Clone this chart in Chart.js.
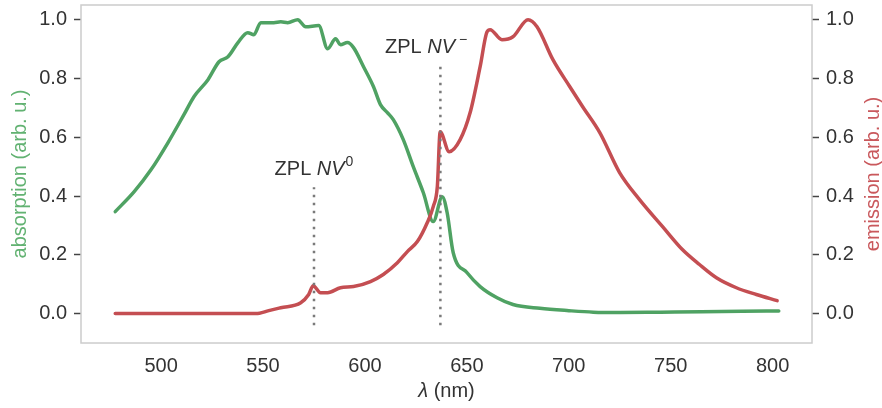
<!DOCTYPE html>
<html>
<head>
<meta charset="utf-8">
<script src="https://cdn.jsdelivr.net/npm/chart.js@4.4.1/dist/chart.umd.min.js"></script>
<style>
  html, body { margin: 0; padding: 0; background: #fff; }
  #wrap { width: 882px; height: 408px; position: relative; }
</style>
</head>
<body>
<div id="wrap"><canvas id="spectra"></canvas></div>
<script>
// absorption spectrum (nm, arb. u.)
var absWl = [477.5, 486.8, 495.1, 503.4, 511.2, 516.1, 523.0, 528.4, 532.8, 537.7, 542.5, 545.5, 548.9,
    555.3, 558.7, 562.1, 567.0, 570.9, 577.3, 581.7, 585.6, 588.0, 591.4, 594.4, 599.3, 604.2, 607.6,
    611.0, 613.9, 618.8, 623.7, 628.6, 633.5, 637.9, 640.3, 643.3, 650.1, 656.5, 664.8, 672.6, 685.8,
    700, 712, 725, 745, 765, 785, 803];
var absVal = [0.347, 0.415, 0.490, 0.582, 0.677, 0.738, 0.796, 0.857, 0.874, 0.922, 0.956, 0.949, 0.990,
    0.990, 0.993, 0.990, 1.000, 0.976, 0.980, 0.901, 0.935, 0.915, 0.922, 0.905, 0.840, 0.772, 0.711,
    0.684, 0.660, 0.592, 0.500, 0.412, 0.313, 0.398, 0.344, 0.207, 0.139, 0.092, 0.054, 0.031, 0.018,
    0.010, 0.005, 0.004, 0.005, 0.006, 0.008, 0.009];

// emission spectrum (nm, arb. u.)
var emWl = [477.5, 500, 530, 546.5, 552.8, 558.7, 568.5, 572.4, 574.6, 578.2, 581.7, 588.0, 594.4, 602.7,
    609.0, 615.9, 620.8, 625.7, 630.6, 633.5, 635.5, 636.9, 641.3, 646.7, 651.6, 656.5, 659.9, 661.4,
    667.2, 672.6, 680.0, 684.4, 692.2, 700.5, 706.8, 715.2, 724.9, 734.7, 746.0, 755.7, 764.1, 772.4,
    782.2, 792.0, 802.2];
var emVal = [0, 0, 0, 0, 0.010, 0.020, 0.037, 0.065, 0.095, 0.071, 0.071, 0.088, 0.092, 0.109,
    0.133, 0.173, 0.211, 0.245, 0.310, 0.364, 0.432, 0.619, 0.551, 0.592, 0.684, 0.840, 0.959, 0.966,
    0.932, 0.942, 1.000, 0.976, 0.864, 0.772, 0.704, 0.616, 0.480, 0.388, 0.296, 0.218, 0.167, 0.122,
    0.088, 0.065, 0.044];

// zero-phonon lines: position, marker span, label
var zplWl = [575, 637];
var zplTop = [0.43, 0.85];
var zplBottom = -0.04;
var zplLabelX = [575, 630];
var zplLabelY = [0.473, 0.888];
var zplSup = ["0", "\u2212"];

var xTicks = [500, 550, 600, 650, 700, 750, 800];
var yTicks = [0.0, 0.2, 0.4, 0.6, 0.8, 1.0];

var green = "#4fa263";
var red = "#c44e52";
var textColor = "#333333";
var fontFamily = "'Liberation Sans', Arial, sans-serif";

function toPoints(xs, ys) {
    return xs.map(function (x, i) { return { x: x, y: ys[i] }; });
}

var datasets = [
    {
        label: "absorption",
        data: toPoints(absWl, absVal),
        borderColor: green,
        borderWidth: 3.5,
        yAxisID: "y",
        order: 2
    },
    {
        label: "emission",
        data: toPoints(emWl, emVal),
        borderColor: red,
        borderWidth: 3.5,
        yAxisID: "y2",
        order: 1
    }
];
zplWl.forEach(function (wl, i) {
    datasets.push({
        label: "zpl" + i,
        data: [{ x: wl, y: zplBottom }, { x: wl, y: zplTop[i] }],
        borderColor: "#7a7a7a",
        borderWidth: 2.5,
        borderDash: [2.5, 5.5],
        borderCapStyle: "butt",
        cubicInterpolationMode: "default",
        tension: 0,
        yAxisID: "y",
        order: 0
    });
});

function setTicks(list) {
    return function (scale) {
        scale.ticks = list.map(function (v) { return { value: v }; });
    };
}

// fixed axis widths, no extra room reserved for half tick labels
function fixWidth(w) {
    return function (scale) {
        scale.width = w;
        scale.paddingTop = 0;
        scale.paddingBottom = 0;
    };
}

var yAxisBase = {
    type: "linear",
    min: -0.1,
    max: 1.05,
    afterBuildTicks: setTicks(yTicks),
    border: { display: false },
    grid: {
        drawOnChartArea: false,
        drawTicks: true,
        tickLength: 7,
        tickWidth: 1.5,
        tickColor: "#444"
    },
    ticks: {
        color: textColor,
        font: { family: fontFamily, size: 20 },
        padding: 7,
        callback: function (v) { return v.toFixed(1); }
    }
};

// frame, axis titles and ZPL labels
var decorations = {
    id: "decorations",
    afterDatasetsDraw: function (chart) {
        var ctx = chart.ctx;
        var area = chart.chartArea;
        var xs = chart.scales.x;
        var ys = chart.scales.y;
        var midY = (area.top + area.bottom) / 2;

        ctx.save();
        ctx.strokeStyle = "#cccccc";
        ctx.lineWidth = 1.5;
        ctx.strokeRect(area.left, area.top, area.right - area.left, area.bottom - area.top);

        // ZPL labels: "ZPL " + italic "NV" + superscript
        var normal = "20px " + fontFamily;
        var italic = "italic 20px " + fontFamily;
        var small = "14px " + fontFamily;
        ctx.fillStyle = textColor;
        ctx.textBaseline = "alphabetic";
        ctx.textAlign = "left";
        zplLabelX.forEach(function (lx, i) {
            ctx.font = normal;
            var w1 = ctx.measureText("ZPL ").width;
            ctx.font = italic;
            var w2 = ctx.measureText("NV").width;
            ctx.font = small;
            var gap = i === 1 ? 4 : 1;
            var w3 = ctx.measureText(zplSup[i]).width;
            var total = w1 + w2 + gap + w3;
            var x0 = xs.getPixelForValue(lx) - total / 2;
            var y0 = ys.getPixelForValue(zplLabelY[i]);
            ctx.font = normal;
            ctx.fillText("ZPL ", x0, y0);
            ctx.font = italic;
            ctx.fillText("NV", x0 + w1, y0);
            ctx.font = small;
            ctx.fillText(zplSup[i], x0 + w1 + w2 + gap, y0 - 9);
        });

        // x title
        ctx.font = italic;
        var lw = ctx.measureText("\u03bb").width;
        ctx.font = normal;
        var rw = ctx.measureText(" (nm)").width;
        var tx = (area.left + area.right) / 2 - (lw + rw) / 2;
        ctx.textBaseline = "middle";
        ctx.font = italic;
        ctx.fillText("\u03bb", tx, 391);
        ctx.font = normal;
        ctx.fillText(" (nm)", tx + lw, 391);

        // y titles, both reading upward
        ctx.textAlign = "center";
        ctx.font = normal;
        ctx.save();
        ctx.translate(20, midY);
        ctx.rotate(-Math.PI / 2);
        ctx.fillStyle = "#62b272";
        ctx.fillText("absorption (arb. u.)", 0, 0);
        ctx.restore();

        ctx.save();
        ctx.translate(873, midY);
        ctx.rotate(-Math.PI / 2);
        ctx.fillStyle = "#c9585c";
        ctx.fillText("emission (arb. u.)", 0, 0);
        ctx.restore();

        ctx.restore();
    }
};

new Chart(document.getElementById("spectra"), {
    type: "line",
    data: { datasets: datasets },
    plugins: [decorations],
    options: {
        responsive: true,
        maintainAspectRatio: false,
        animation: false,
        layout: { padding: { top: 5, left: 0, right: 0, bottom: 0 } },
        elements: {
            point: { radius: 0 },
            line: { cubicInterpolationMode: "monotone", borderCapStyle: "round", borderJoinStyle: "round" }
        },
        plugins: {
            legend: { display: false },
            tooltip: { enabled: false }
        },
        scales: {
            x: {
                type: "linear",
                min: 460.7,
                max: 819.3,
                afterBuildTicks: setTicks(xTicks),
                afterFit: function (scale) {
                    scale.height = 65;
                    scale.paddingLeft = 0;
                    scale.paddingRight = 0;
                },
                border: { display: false },
                grid: { display: false },
                ticks: {
                    color: textColor,
                    font: { family: fontFamily, size: 20 },
                    padding: 3,
                    maxRotation: 0
                }
            },
            y: Object.assign({}, yAxisBase, {
                position: "left",
                afterFit: fixWidth(81)
            }),
            y2: Object.assign({}, yAxisBase, {
                position: "right",
                afterFit: fixWidth(70)
            })
        }
    }
});
</script>
</body>
</html>
